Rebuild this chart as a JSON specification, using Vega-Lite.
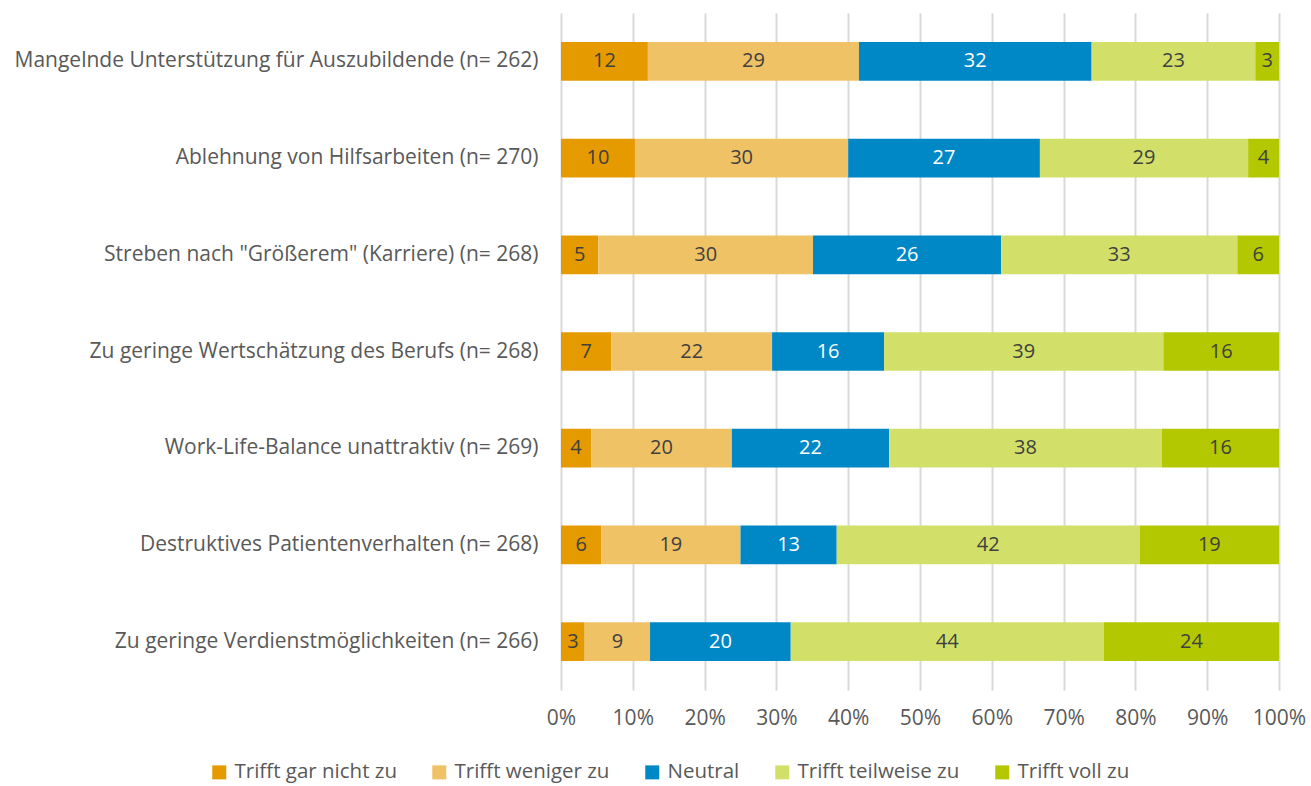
{
  "$schema": "https://vega.github.io/schema/vega-lite/v6.json",
  "autosize": {"type": "none"},
  "padding": {"left": 561, "top": 13, "right": 32, "bottom": 96},
  "width": 718,
  "height": 677,
  "background": "white",
  "config": {
    "font": "Open Sans",
    "view": {"stroke": null}
  },
  "data": {
    "values": [
      {"category": "Mangelnde Unterstützung für Auszubildende (n= 262)", "response": "Trifft gar nicht zu", "value": 12.1},
      {"category": "Mangelnde Unterstützung für Auszubildende (n= 262)", "response": "Trifft weniger zu", "value": 29.4},
      {"category": "Mangelnde Unterstützung für Auszubildende (n= 262)", "response": "Neutral", "value": 32.4},
      {"category": "Mangelnde Unterstützung für Auszubildende (n= 262)", "response": "Trifft teilweise zu", "value": 22.8},
      {"category": "Mangelnde Unterstützung für Auszubildende (n= 262)", "response": "Trifft voll zu", "value": 3.3},
      {"category": "Ablehnung von Hilfsarbeiten (n= 270)", "response": "Trifft gar nicht zu", "value": 10.3},
      {"category": "Ablehnung von Hilfsarbeiten (n= 270)", "response": "Trifft weniger zu", "value": 29.7},
      {"category": "Ablehnung von Hilfsarbeiten (n= 270)", "response": "Neutral", "value": 26.7},
      {"category": "Ablehnung von Hilfsarbeiten (n= 270)", "response": "Trifft teilweise zu", "value": 29.0},
      {"category": "Ablehnung von Hilfsarbeiten (n= 270)", "response": "Trifft voll zu", "value": 4.3},
      {"category": "Streben nach \"Größerem\" (Karriere) (n= 268)", "response": "Trifft gar nicht zu", "value": 5.2},
      {"category": "Streben nach \"Größerem\" (Karriere) (n= 268)", "response": "Trifft weniger zu", "value": 29.9},
      {"category": "Streben nach \"Größerem\" (Karriere) (n= 268)", "response": "Neutral", "value": 26.2},
      {"category": "Streben nach \"Größerem\" (Karriere) (n= 268)", "response": "Trifft teilweise zu", "value": 32.9},
      {"category": "Streben nach \"Größerem\" (Karriere) (n= 268)", "response": "Trifft voll zu", "value": 5.8},
      {"category": "Zu geringe Wertschätzung des Berufs (n= 268)", "response": "Trifft gar nicht zu", "value": 7.0},
      {"category": "Zu geringe Wertschätzung des Berufs (n= 268)", "response": "Trifft weniger zu", "value": 22.4},
      {"category": "Zu geringe Wertschätzung des Berufs (n= 268)", "response": "Neutral", "value": 15.6},
      {"category": "Zu geringe Wertschätzung des Berufs (n= 268)", "response": "Trifft teilweise zu", "value": 38.9},
      {"category": "Zu geringe Wertschätzung des Berufs (n= 268)", "response": "Trifft voll zu", "value": 16.1},
      {"category": "Work-Life-Balance unattraktiv (n= 269)", "response": "Trifft gar nicht zu", "value": 4.2},
      {"category": "Work-Life-Balance unattraktiv (n= 269)", "response": "Trifft weniger zu", "value": 19.6},
      {"category": "Work-Life-Balance unattraktiv (n= 269)", "response": "Neutral", "value": 21.9},
      {"category": "Work-Life-Balance unattraktiv (n= 269)", "response": "Trifft teilweise zu", "value": 38.0},
      {"category": "Work-Life-Balance unattraktiv (n= 269)", "response": "Trifft voll zu", "value": 16.3},
      {"category": "Destruktives Patientenverhalten (n= 268)", "response": "Trifft gar nicht zu", "value": 5.6},
      {"category": "Destruktives Patientenverhalten (n= 268)", "response": "Trifft weniger zu", "value": 19.4},
      {"category": "Destruktives Patientenverhalten (n= 268)", "response": "Neutral", "value": 13.4},
      {"category": "Destruktives Patientenverhalten (n= 268)", "response": "Trifft teilweise zu", "value": 42.2},
      {"category": "Destruktives Patientenverhalten (n= 268)", "response": "Trifft voll zu", "value": 19.4},
      {"category": "Zu geringe Verdienstmöglichkeiten (n= 266)", "response": "Trifft gar nicht zu", "value": 3.3},
      {"category": "Zu geringe Verdienstmöglichkeiten (n= 266)", "response": "Trifft weniger zu", "value": 9.1},
      {"category": "Zu geringe Verdienstmöglichkeiten (n= 266)", "response": "Neutral", "value": 19.6},
      {"category": "Zu geringe Verdienstmöglichkeiten (n= 266)", "response": "Trifft teilweise zu", "value": 43.6},
      {"category": "Zu geringe Verdienstmöglichkeiten (n= 266)", "response": "Trifft voll zu", "value": 24.4}
    ]
  },
  "transform": [
    {"calculate": "indexof(['Trifft gar nicht zu','Trifft weniger zu','Neutral','Trifft teilweise zu','Trifft voll zu'], datum.response)", "as": "k"},
    {"stack": "value", "groupby": ["category"], "sort": [{"field": "k", "order": "ascending"}], "as": ["x0", "x1"]},
    {"calculate": "(datum.x0 + datum.x1) / 2", "as": "xm"}
  ],
  "encoding": {
    "y": {
      "field": "category",
      "type": "nominal",
      "sort": null,
      "title": null,
      "scale": {"paddingInner": 0.6, "paddingOuter": 0.3},
      "axis": {
        "domain": false,
        "ticks": false,
        "labelFontSize": 21,
        "labelColor": "#595959",
        "labelPadding": 23,
        "labelLimit": 700
      }
    }
  },
  "layer": [
    {
      "mark": {"type": "bar"},
      "encoding": {
        "x": {
          "field": "x0",
          "type": "quantitative",
          "scale": {"domain": [0, 100], "nice": false},
          "title": null,
          "axis": {
            "values": [0, 10, 20, 30, 40, 50, 60, 70, 80, 90, 100],
            "labelExpr": "datum.value + '%'",
            "labelFlush": false,
            "labelOverlap": false,
            "domain": false,
            "ticks": false,
            "grid": true,
            "gridColor": "#D9D9D9",
            "gridWidth": 2,
            "labelFontSize": 21,
            "labelColor": "#595959",
            "labelPadding": 17
          }
        },
        "x2": {"field": "x1"},
        "color": {
          "field": "response",
          "type": "nominal",
          "scale": {
            "domain": ["Trifft gar nicht zu", "Trifft weniger zu", "Neutral", "Trifft teilweise zu", "Trifft voll zu"],
            "range": ["#E59A00", "#F0C266", "#0088C6", "#D2E06A", "#B3C800"]
          },
          "legend": {
            "title": null,
            "orient": "none",
            "direction": "horizontal",
            "legendX": -352,
            "legendY": 749,
            "symbolType": "square",
            "symbolSize": 196,
            "symbolStrokeWidth": 0,
            "labelFontSize": 20.5,
            "labelColor": "#595959",
            "labelOffset": 5,
            "columnPadding": 32,
            "labelLimit": 300
          }
        }
      }
    },
    {
      "mark": {"type": "text", "fontSize": 20, "baseline": "middle", "align": "center"},
      "encoding": {
        "x": {"field": "xm", "type": "quantitative"},
        "text": {"field": "value", "type": "quantitative", "format": ".0f"},
        "color": {
          "condition": {"test": "datum.response === 'Neutral'", "value": "#FFFFFF"},
          "value": "#404040"
        }
      }
    }
  ]
}
